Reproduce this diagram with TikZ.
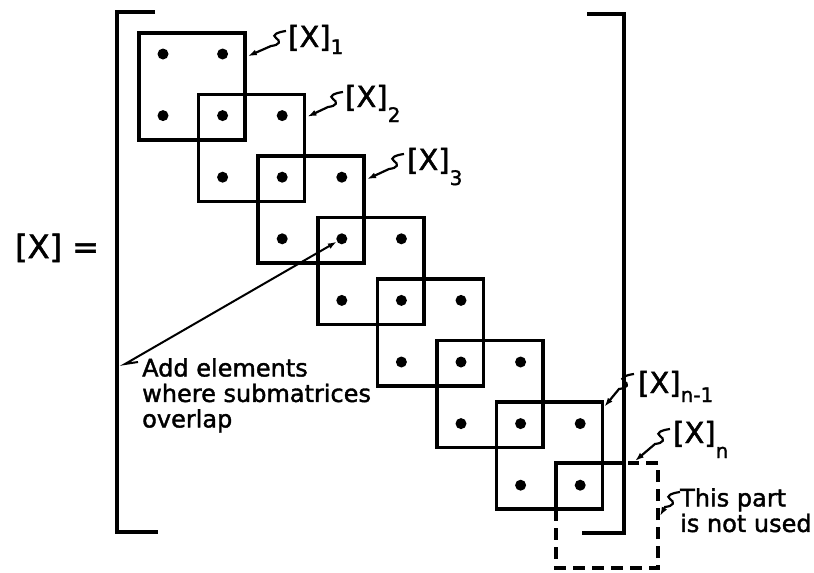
\documentclass[tikz,border=0pt]{standalone}
\usepackage{fontspec}
\setmainfont{DejaVu Sans}[FakeBold=1.6]
\usetikzlibrary{arrows.meta,calc}
\newcommand\lsub[2]{\raisebox{-#1pt}{\fontsize{20}{20}\selectfont #2}}
\tikzset{
  box/.style={draw, line width=3.6pt, minimum width=106pt, minimum height=107pt, inner sep=0pt},
  dotnode/.style={circle, fill, inner sep=0pt, minimum size=11pt},
  brk/.style={line width=4.4pt, line join=miter},
  lead/.style={line width=2.2pt, {Latex[length=9pt,width=6pt]}-},
  lbl/.style={anchor=base west, inner sep=0pt, font=\fontsize{29}{29}\selectfont},
  note/.style={anchor=north west, inner sep=0pt, align=left, font=\fontsize{24}{25.5}\selectfont},
  dashedline/.style={line width=3.4pt, dash pattern=on 12pt off 7pt},
  solidline/.style={line width=3.6pt},
}
\newcommand\squig{.. controls +(9,-1) and +(5,3) .. ++(5,-8) .. controls +(-5,-3) and +(-8,1) .. ++(10,-7)}
\begin{document}
\begin{tikzpicture}[x=1pt,y=-1pt]
\useasboundingbox (0,0) rectangle (814,573);

% brackets
\draw[brk] (155,12) -- (117,12) -- (117,532) -- (158,532);
\draw[brk] (587,14) -- (624,14) -- (624,533) -- (582,533);

% left-hand side
\node[anchor=base west, inner sep=0pt, font=\fontsize{32}{32}\selectfont] (lhs) at (15,258) {[X] =};

% submatrix boxes 1..7
\foreach \k in {1,...,7} {
  \node[box] (b\k) at ({192+59.6*(\k-1)},{86.5+61.5*(\k-1)}) {};
}
% box n (partly outside the matrix)
\coordinate (b8tl) at (556,463);
\coordinate (b8br) at (658,568);
\draw[solidline] (624,463) -- (b8tl) -- (556,509);
\draw[dashedline] (556,509) -- (556,568) -- (b8br) -- (658,463) -- (628,463);

% dots
\foreach \r in {1,...,8} {
  \foreach \c in {1,...,8} {
    \pgfmathtruncatemacro\dd{abs(\r-\c)}
    \ifnum\dd<2
      \node[dotnode] (d\r\c) at ({163+59.6*(\c-1)},{54+61.6*(\r-1)}) {};
    \fi
  }
}

% labels
\node[lbl] (l1) at (288,47) {[X]\lsub{7}{1}};
\node[lbl] (l2) at (345,107) {[X]\lsub{15}{2}};
\node[lbl] (l3) at (407,170) {[X]\lsub{15}{3}};
\node[lbl] (l4) at (638,393) {[X]\lsub{9}{n-1}};
\node[lbl] (l5) at (673,443) {[X]\lsub{15}{n}};

\node[note] (n1) at (142,358) {Add elements\\where submatrices\\overlap};
\node[note] (n2) at (680,488) {This part\\is not used};

% leader tips
\coordinate (p1) at ($(b1.north east)+(1,25)$);
\coordinate (p2) at ($(b2.north east)+(1,24)$);
\coordinate (p3) at ($(b3.north east)+(1,25)$);
\coordinate (p4) at ($(b7.north east)+(0,6.5)$);
\coordinate (p5) at (635,461);
\coordinate (p6) at (660,516);
% leader joints
\coordinate (s1) at ($(l1.base west)+(-17,-1)$);
\coordinate (s2) at ($(l2.base west)+(-17,0)$);
\coordinate (s3) at ($(l3.base west)+(-18,-1)$);
\coordinate (s4) at ($(l4.base west)+(-19,-4)$);
\coordinate (s5) at ($(l5.base west)+(-18,1)$);
\coordinate (s6) at ($(n2.north west)+(-15,19)$);

\foreach \i in {1,...,6} {
  \draw[lead] (p\i) -- (s\i) \squig;
}

% overlap leader
\draw[line width=2pt, -{Latex[length=9pt,width=6pt]}]
  ($(n1.north west)+(-4,4)$) -- ($(n1.north west)+(-17,6)$) -- (d44);
\end{tikzpicture}
\end{document}
